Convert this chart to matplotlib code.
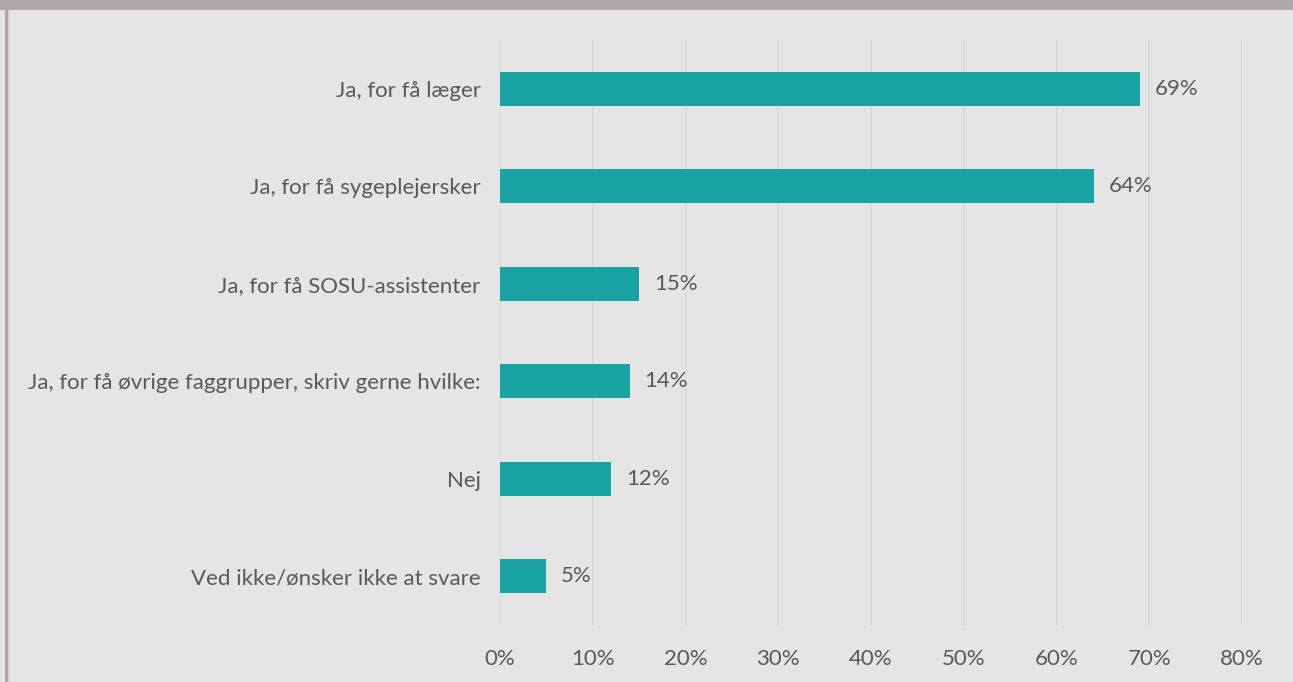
import matplotlib.pyplot as plt
from matplotlib.patches import Rectangle
import numpy as np

categories = ['Ja, for få læger', 'Ja, for få sygeplejersker', 'Ja, for få SOSU-assistenter',
              'Ja, for få øvrige faggrupper, skriv gerne hvilke:', 'Nej', 'Ved ikke/ønsker ikke at svare']
values = [69, 64, 15, 14, 12, 5]
ticks = [0, 10, 20, 30, 40, 50, 60, 70, 80]

plt.rcParams['font.family'] = ['Lato', 'DejaVu Sans']
txt = '#595959'
fs = 16

fig = plt.figure(figsize=(12.93, 6.82), dpi=100)
fig.patch.set_facecolor('#e5e5e5')

# frame decoration
fig.add_artist(Rectangle((0, 1 - 10/682), 1, 10/682, transform=fig.transFigure, color='#aea9a8', lw=0))
fig.add_artist(Rectangle((5/1293, 0), 3/1293, 1 - 10/682, transform=fig.transFigure, color='#aea9a8', lw=0))
fig.add_artist(Rectangle((8/1293, 0), 2/1293, 1 - 10/682, transform=fig.transFigure, color='#d6d4d4', lw=0))

ax = fig.add_axes([500/1293, 57/682, 742/1293, 585/682])
ax.set_facecolor('#e5e5e5')
y = np.arange(len(categories))
ax.barh(y, values, height=0.35, color='#19a4a3', zorder=3)
for yi, v in zip(y, values):
    ax.text(v + 1.6, yi, f'{v}%', va='center', ha='left', fontsize=fs, color=txt)

ax.set_xlim(0, 80)
ax.set_ylim(len(categories) - 0.5, -0.5)
ax.set_xticks(ticks)
ax.set_xticklabels([f'{t}%' for t in ticks], fontsize=fs, color=txt)
ax.set_yticks(y)
ax.set_yticklabels(categories, fontsize=fs, color=txt)
ax.tick_params(length=0)
ax.tick_params(axis='x', pad=17)
ax.tick_params(axis='y', pad=14)
ax.grid(axis='x', color='#d9d9d9', lw=1.3, zorder=0)
for s in ax.spines.values():
    s.set_visible(False)

fig.savefig('out.png', dpi=100, facecolor=fig.get_facecolor())
